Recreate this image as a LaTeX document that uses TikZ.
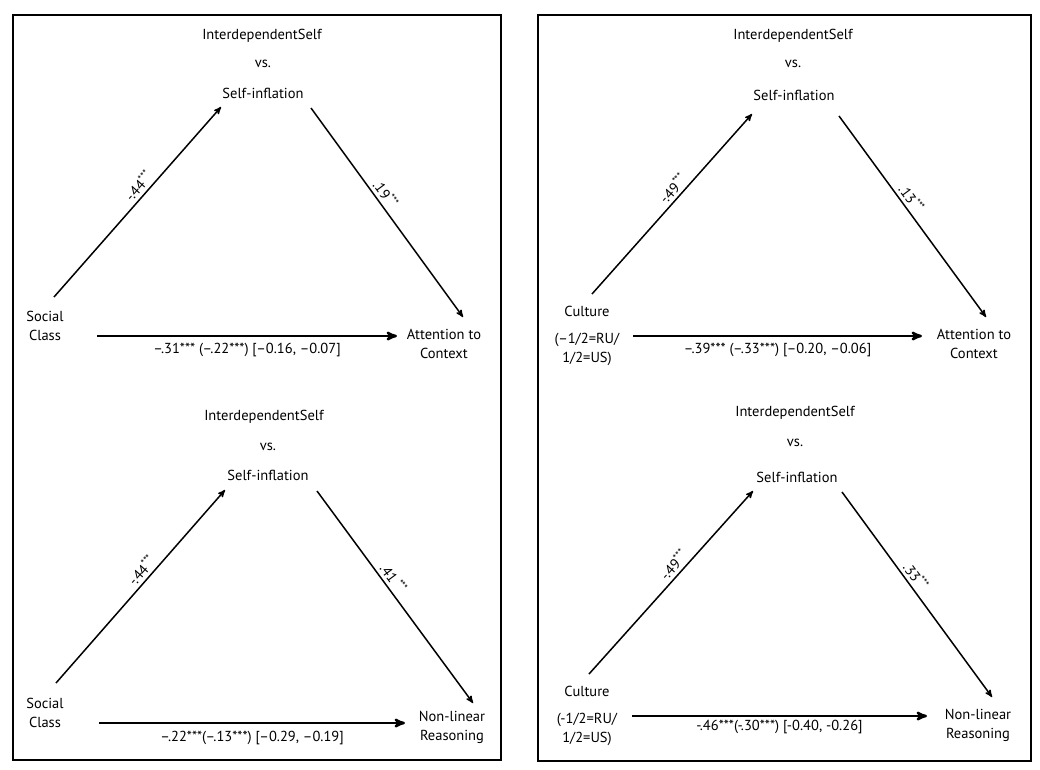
\documentclass[tikz,border=0pt]{standalone}
\usepackage{fontspec}
\setmainfont{PT Sans}
\usetikzlibrary{arrows}
\tikzset{every node/.style={ % Sets the properties for each text
font=\fontsize{14.5}{19}\selectfont,
inner sep=2pt},
panel/.style={draw, line width=2pt}, % Frame of each half
every edge/.style={ % Sets the properties for each path
draw,->,>=stealth',
line width=1.5pt},
direct/.style={line width=2.4pt}, % Direct effect is a bit bolder
coef/.style={font=\fontsize{14.5}{16}\selectfont, sloped, above=2pt, inner sep=1pt}}

\begin{document}
\begin{tikzpicture}[x=1pt,y=-1pt,color=black]
    \useasboundingbox (0,0) rectangle (1040,769);
    \draw[panel] (13,15) rectangle (501,760);
    \draw[panel] (538,15) rectangle (1031,761);

    % Social class, attention
    \node (ids1) at (262,36) {InterdependentSelf};
    \node (vs1) at (263,64) {vs.};
    \node (si1) at (263,93) {Self-inflation};
    \node[align=center] (sc1) at (45,326) {Social\\Class};
    \node[align=center] (ac1) at (444,344) {Attention to\\Context};
    \coordinate (sc1o) at (54,297);
    \coordinate (si1i) at (221,107);
    \coordinate (si1o) at (311,108);
    \coordinate (ac1i) at (463,317);
    \coordinate (sc1d) at (97,336);
    \coordinate (ac1d) at (397,336);
    \draw (sc1o) edge node[coef, pos=0.55] {-.44\textsuperscript{***}} (si1i);
    \draw (si1o) edge node[coef, pos=0.44] {.19\textsuperscript{***}} (ac1i);
    \draw (sc1d) edge[direct] node[below=4pt] {--.31*** (--.22***) [--0.16, --0.07]} (ac1d);

    % Culture, attention
    \node (ids2) at (793,36) {InterdependentSelf};
    \node (vs2) at (793,64) {vs.};
    \node (si2) at (794,95) {Self-inflation};
    \node[align=center] (cu2) at (587,336) {Culture\\[8pt](--1/2=RU/\\1/2=US)};
    \node[align=center] (ac2) at (974,344) {Attention to\\Context};
    \coordinate (cu2o) at (592,294);
    \coordinate (si2i) at (752,114);
    \coordinate (si2o) at (839,116);
    \coordinate (ac2i) at (986,317);
    \coordinate (cu2d) at (633,336);
    \coordinate (ac2d) at (922,336);
    \draw (cu2o) edge node[coef, pos=0.55] {-.49\textsuperscript{***}} (si2i);
    \draw (si2o) edge node[coef, pos=0.44] {.13\textsuperscript{***}} (ac2i);
    \draw (cu2d) edge[direct] node[below=4pt] {--.39*** (--.33***) [--0.20, --0.06]} (ac2d);

    % Social class, reasoning
    \node (ids3) at (264,417) {InterdependentSelf};
    \node (vs3) at (268,447) {vs.};
    \node (si3) at (268,475) {Self-inflation};
    \node[align=center] (sc3) at (45,713) {Social\\Class};
    \node[align=center] (nr3) at (452,727) {Non-linear\\Reasoning};
    \coordinate (sc3o) at (56,683);
    \coordinate (si3i) at (225,490);
    \coordinate (si3o) at (317,491);
    \coordinate (nr3i) at (473,703);
    \coordinate (sc3d) at (99,723);
    \coordinate (nr3d) at (405,723);
    \draw (sc3o) edge node[coef, pos=0.55] {-.44\textsuperscript{***}} (si3i);
    \draw (si3o) edge node[coef, pos=0.44] {.41\textsuperscript{ ***}} (nr3i);
    \draw (sc3d) edge[direct] node[below=5pt] {--.22***(--.13***) [--0.29, --0.19]} (nr3d);

    % Culture, reasoning
    \node (ids4) at (795,413) {InterdependentSelf};
    \node (vs4) at (795,443) {vs.};
    \node (si4) at (797,477) {Self-inflation};
    \node[align=center] (cu4) at (587,716) {Culture\\[8pt](-1/2=RU/\\1/2=US)};
    \node[align=center] (nr4) at (978,725) {Non-linear\\Reasoning};
    \coordinate (cu4o) at (589,674);
    \coordinate (si4i) at (753,491);
    \coordinate (si4o) at (842,492);
    \coordinate (nr4i) at (992,697);
    \coordinate (cu4d) at (632,716);
    \coordinate (nr4d) at (927,716);
    \draw (cu4o) edge node[coef, pos=0.56] {-.49\textsuperscript{***}} (si4i);
    \draw (si4o) edge node[coef, pos=0.44] {.33\textsuperscript{***}} (nr4i);
    \draw (cu4d) edge[direct] node[below=1pt] {-.46***(-.30***) [-0.40, -0.26]} (nr4d);
\end{tikzpicture}
\end{document}
